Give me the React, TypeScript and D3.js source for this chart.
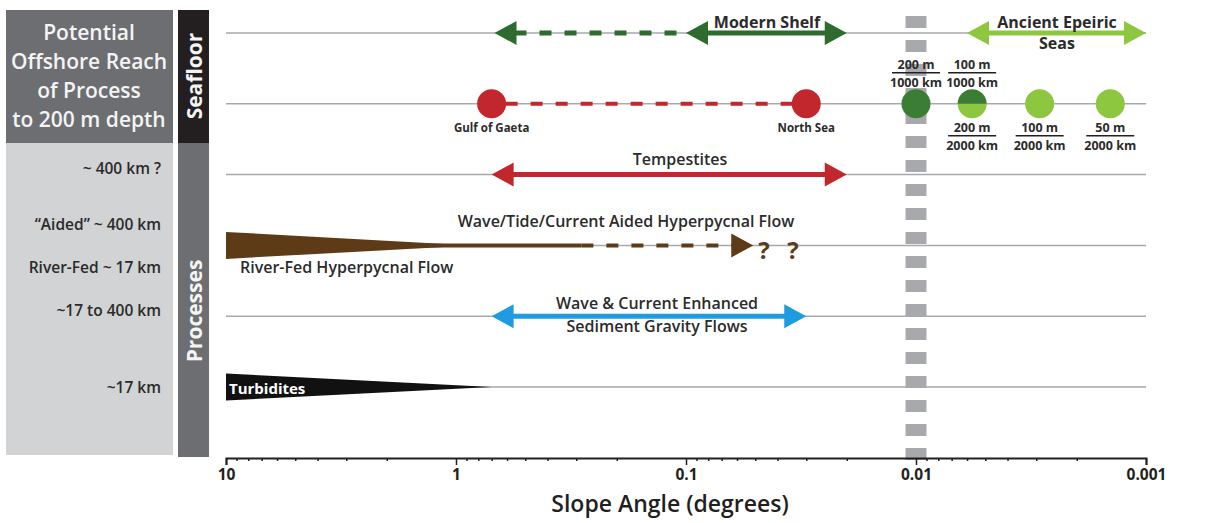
import React, { useEffect, useRef } from 'react'
import * as d3 from 'd3'

// rows of the diagram, top to bottom
const rowKeys = ['shelf', 'seafloor', 'tempestites', 'hyperpycnal', 'waveCurrent', 'turbidites']

const titleLines = ['Potential', 'Offshore Reach', 'of Process', 'to 200 m depth']
const reachLabels = ['~ 400 km ?', '\u201CAided\u201D ~ 400 km', 'River-Fed ~ 17 km', '~17 to 400 km', '~17 km']
const reachRows = ['tempestites', 'hyperpycnal', 'hyperpycnal', 'waveCurrent', 'turbidites']
const reachShift = [-7, -21, 22, -6, 0]

// slope ranges in degrees
const modernShelfDashed = [0.68, 0.1]
const modernShelfSolid = [0.1, 0.02]
const ancientSeas = [0.006, 0.001]
const siteNames = ['Gulf of Gaeta', 'North Sea']
const siteSlopes = [0.7, 0.03]
const epeiricSlopes = [0.01, 0.0057, 0.0029, 0.00143]
const upperFractions = [['200 m', '1000 km', 0.01], ['100 m', '1000 km', 0.0057]]
const lowerFractions = [['200 m', '2000 km', 0.0057], ['100 m', '2000 km', 0.0029], ['50 m', '2000 km', 0.00143]]
const tempestites = [0.7, 0.02]
const waveCurrent = [0.7, 0.03]
const hyperWedge = [10, 0.85]
const hyperSolid = [10, 0.285]
const hyperDashed = [0.285, 0.051]
const questionSlopes = [0.0458, 0.0343]
const turbidites = [10, 0.7]
const axisTitle = 'Slope Angle (degrees)'

const W = 1225
const H = 523
const FONT = "'Open Sans', 'Noto Sans', sans-serif"

const C = {
  panel: '#6d6e71',
  panelLight: '#d1d3d4',
  black: '#231f20',
  rule: '#a7a9ac',
  darkGreen: '#2e6b2f',
  circleGreen: '#3b7d34',
  lightGreen: '#8dc63f',
  red: '#c1272d',
  blue: '#1f9ce0',
  brown: '#5e3b17',
  text: '#2b2b2b',
}

const x = d3.scaleLog().domain([10, 0.001]).range([226, 1146])
const y = d3.scalePoint().domain(rowKeys).range([33, 387])

const HEAD_L = 22
const HEAD_H = 12

function head(tip: number, yy: number, dir: number) {
  // dir = -1 points left, 1 points right
  const base = tip - dir * HEAD_L
  return d3.line()([[tip, yy], [base, yy - HEAD_H], [base, yy + HEAD_H]]) + 'Z'
}

function Arrow({ range, row, color, dashed = false, left = true, right = true, width = 5 }: any) {
  const yy = y(row) as number
  const x1 = x(range[0])
  const x2 = x(range[1])
  const a = left ? x1 + HEAD_L - 2 : x1
  const b = right ? x2 - HEAD_L + 2 : x2
  return (
    <g>
      <line x1={a} x2={b} y1={yy} y2={yy} stroke={color} strokeWidth={width}
        strokeDasharray={dashed ? '12 13' : undefined} />
      {left && <path d={head(x1, yy, -1)} fill={color} />}
      {right && <path d={head(x2, yy, 1)} fill={color} />}
    </g>
  )
}

function Fraction({ num, den, cx, cy }: any) {
  return (
    <g fontFamily={FONT} fontWeight={700} fontSize={12.5} fill={C.text} textAnchor="middle">
      <text x={cx} y={cy - 8} dominantBaseline="central">{num}</text>
      <line x1={cx - 24} x2={cx + 24} y1={cy} y2={cy} stroke={C.black} strokeWidth={1.4} />
      <text x={cx} y={cy + 10} dominantBaseline="central">{den}</text>
    </g>
  )
}

function Axis() {
  const ref = useRef<SVGGElement>(null)
  useEffect(() => {
    const isMajor = (d: number) => Math.abs(Math.log10(d) - Math.round(Math.log10(d))) < 1e-6
    const axis = d3.axisBottom(x)
      .tickValues(x.ticks())
      .tickSize(3)
      .tickSizeOuter(7)
      .tickFormat((d: any) => isMajor(d) ? String(+(+d).toPrecision(1)) : '')
    const g = d3.select(ref.current)
    g.call(axis as any)
    g.select('.domain').attr('stroke', C.black).attr('stroke-width', 2)
    g.selectAll('.tick line').attr('stroke', C.black).attr('stroke-width', 1.5)
      .attr('y2', (d: any) => isMajor(d) ? 7 : 3)
    g.selectAll('.tick text')
      .attr('y', 11)
      .attr('font-family', FONT)
      .attr('font-weight', 700)
      .attr('font-size', 15.5)
      .attr('fill', C.black)
  }, [])
  return <g ref={ref} transform="translate(0,458)" />
}

export default function App() {
  const yShelf = y('shelf') as number
  const ySea = y('seafloor') as number
  const yHyper = y('hyperpycnal') as number
  const yTurb = y('turbidites') as number
  const halfCircle = d3.arc()

  return (
    <svg width={W} height={H} style={{ position: 'absolute', left: 0, top: 0, background: '#fff' }}>
      {/* left panels */}
      <rect x={6} y={10} width={167} height={133} fill={C.panel} />
      <rect x={6} y={143} width={167} height={312} fill={C.panelLight} />
      <rect x={178} y={10} width={31} height={133} fill={C.black} />
      <rect x={178} y={143} width={31} height={314} fill={C.panel} />
      <g fontFamily={FONT} fontWeight={600} fontSize={21} fill="#f4f4f4" textAnchor="middle">
        {titleLines.map((t, i) => (
          <text key={t} x={89} y={32 + i * 29} dominantBaseline="central">{t}</text>
        ))}
      </g>
      <g fontFamily={FONT} fontWeight={700} fontSize={21} fill="#f4f4f4" textAnchor="middle">
        <text transform="translate(194,76) rotate(-90)" dominantBaseline="central">Seafloor</text>
        <text transform="translate(194,311) rotate(-90)" dominantBaseline="central">Processes</text>
      </g>
      <g fontFamily={FONT} fontWeight={600} fontSize={15.5} fill={C.text} textAnchor="end">
        {reachLabels.map((t, i) => (
          <text key={t} x={161} y={(y(reachRows[i]) as number) + reachShift[i]} dominantBaseline="central">{t}</text>
        ))}
      </g>

      {/* row guide lines */}
      {rowKeys.map(k => (
        <line key={k} x1={x(10)} x2={x(0.001)} y1={y(k)} y2={y(k)} stroke={C.rule} strokeWidth={1.5} />
      ))}

      {/* 0.01 degree band */}
      <line x1={x(0.01)} x2={x(0.01)} y1={16} y2={460} stroke={C.rule} strokeWidth={21} strokeDasharray="12 12" />

      {/* seafloor: modern shelf and epeiric seas */}
      <Arrow range={modernShelfDashed} row="shelf" color={C.darkGreen} dashed right={false} />
      <Arrow range={modernShelfSolid} row="shelf" color={C.darkGreen} />
      <Arrow range={ancientSeas} row="shelf" color={C.lightGreen} />
      <g fontFamily={FONT} fontWeight={700} fontSize={16} fill={C.text} textAnchor="middle">
        <text x={767} y={yShelf - 11} dominantBaseline="central">Modern Shelf</text>
        <text x={1057} y={yShelf - 11} dominantBaseline="central">Ancient Epeiric</text>
        <text x={1057} y={yShelf + 10} dominantBaseline="central">Seas</text>
      </g>

      <line x1={x(siteSlopes[0]) + 14} x2={x(siteSlopes[1]) - 14} y1={ySea} y2={ySea}
        stroke={C.red} strokeWidth={4} strokeDasharray="12 13" />
      {siteSlopes.map((s, i) => (
        <g key={siteNames[i]}>
          <circle cx={x(s)} cy={ySea} r={14.5} fill={C.red} />
          <text x={x(s)} y={ySea + 24} textAnchor="middle" dominantBaseline="central"
            fontFamily={FONT} fontWeight={700} fontSize={11.5} fill={C.text}>{siteNames[i]}</text>
        </g>
      ))}
      {epeiricSlopes.map((s, i) => i === 1 ? (
        <g key={s} transform={`translate(${x(s)},${ySea})`}>
          <path d={halfCircle({ innerRadius: 0, outerRadius: 14.5, startAngle: Math.PI / 2, endAngle: Math.PI * 1.5 } as any) as string} fill={C.lightGreen} />
          <path d={halfCircle({ innerRadius: 0, outerRadius: 14.5, startAngle: -Math.PI / 2, endAngle: Math.PI / 2 } as any) as string} fill={C.circleGreen} />
        </g>
      ) : (
        <circle key={s} cx={x(s)} cy={ySea} r={14.5} fill={i === 0 ? C.circleGreen : C.lightGreen} />
      ))}
      {upperFractions.map(([n, d, s]) => (
        <Fraction key={'u' + s} num={n} den={d} cx={x(s as number)} cy={ySea - 31} />
      ))}
      {lowerFractions.map(([n, d, s]) => (
        <Fraction key={'l' + s} num={n} den={d} cx={x(s as number)} cy={ySea + 32} />
      ))}

      {/* processes */}
      <Arrow range={tempestites} row="tempestites" color={C.red} />
      <Arrow range={waveCurrent} row="waveCurrent" color={C.blue} />

      <path d={d3.line()([[x(hyperWedge[0]), yHyper - 13.5], [x(hyperWedge[1]), yHyper], [x(hyperWedge[0]), yHyper + 13.5]]) + 'Z'} fill={C.brown} />
      <line x1={x(hyperSolid[0])} x2={x(hyperSolid[1])} y1={yHyper} y2={yHyper} stroke={C.brown} strokeWidth={4} />
      <Arrow range={hyperDashed} row="hyperpycnal" color={C.brown} dashed left={false} width={4} />
      {questionSlopes.map(s => (
        <text key={s} x={x(s)} y={yHyper + 4} textAnchor="middle" dominantBaseline="central"
          fontFamily={FONT} fontWeight={700} fontSize={24} fill={C.brown}>?</text>
      ))}

      <path d={d3.line()([[x(turbidites[0]), yTurb - 13.5], [x(turbidites[1]), yTurb], [x(turbidites[0]), yTurb + 13.5]]) + 'Z'} fill="#111" />

      <g fontFamily={FONT} fontWeight={600} fontSize={16} fill={C.text}>
        <text x={680} y={(y('tempestites') as number) - 16} textAnchor="middle" dominantBaseline="central">Tempestites</text>
        <text x={626} y={yHyper - 24} textAnchor="middle" dominantBaseline="central">Wave/Tide/Current Aided Hyperpycnal Flow</text>
        <text x={240} y={yHyper + 22} dominantBaseline="central">River-Fed Hyperpycnal Flow</text>
        <text x={657} y={(y('waveCurrent') as number) - 13} textAnchor="middle" dominantBaseline="central">Wave &amp; Current Enhanced</text>
        <text x={657} y={(y('waveCurrent') as number) + 10} textAnchor="middle" dominantBaseline="central">Sediment Gravity Flows</text>
        <text x={229} y={yTurb + 1} dominantBaseline="central" fill="#fff" fontWeight={700} fontSize={15}>Turbidites</text>
      </g>

      <Axis />
      <text x={670} y={503} textAnchor="middle" dominantBaseline="central"
        fontFamily={FONT} fontWeight={600} fontSize={23} fill={C.black}>{axisTitle}</text>
    </svg>
  )
}
